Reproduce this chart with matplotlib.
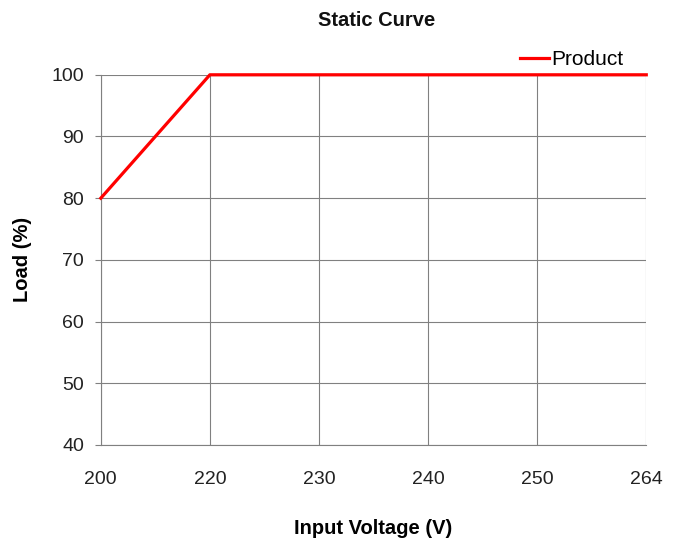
import matplotlib
matplotlib.use("Agg")
import matplotlib.pyplot as plt

plt.rcParams['font.family'] = ['Liberation Sans Narrow', 'Liberation Sans', 'DejaVu Sans']

voltage = ["200", "220", "230", "240", "250", "264"]
load = [80, 100, 100, 100, 100, 100]

fig = plt.figure(figsize=(6.81, 5.42), dpi=100)
ax = fig.add_axes([0.148, 0.179, 0.801, 0.683])

x = range(len(voltage))
ax.plot(x, load, color="#ff0000", linewidth=2.3, label="Product", zorder=3, clip_on=False)

ax.set_xlim(0, len(voltage) - 1)
ax.set_ylim(40, 100)
ax.set_xticks(list(x))
ax.set_xticklabels(voltage)
ax.set_yticks(range(40, 101, 10))
ax.tick_params(axis="both", labelsize=14, colors="#222222", length=4, color="#808080")
ax.tick_params(axis="x", length=0, pad=19)
ax.tick_params(axis="y", pad=8)
ax.grid(True, color="#808080", linewidth=0.8)

for s in ["top", "right"]:
    ax.spines[s].set_visible(False)
for s in ["left", "bottom"]:
    ax.spines[s].set_color("#808080")

fig.text(0.553, 0.963, "Static Curve", fontsize=14.5, fontweight="bold",
         ha="center", va="center", color="#111111")
ax.set_xlabel("Input Voltage (V)", fontsize=14.5, fontweight="bold", labelpad=22)
ax.set_ylabel("Load (%)", fontsize=14.5, fontweight="bold", labelpad=14)

ax.legend(loc="center right", bbox_to_anchor=(0.958, 1.04), frameon=False, fontsize=15,
          handlelength=1.4, handletextpad=0.1, borderaxespad=0.0, borderpad=0.0)

fig.savefig("out.png", dpi=100)
